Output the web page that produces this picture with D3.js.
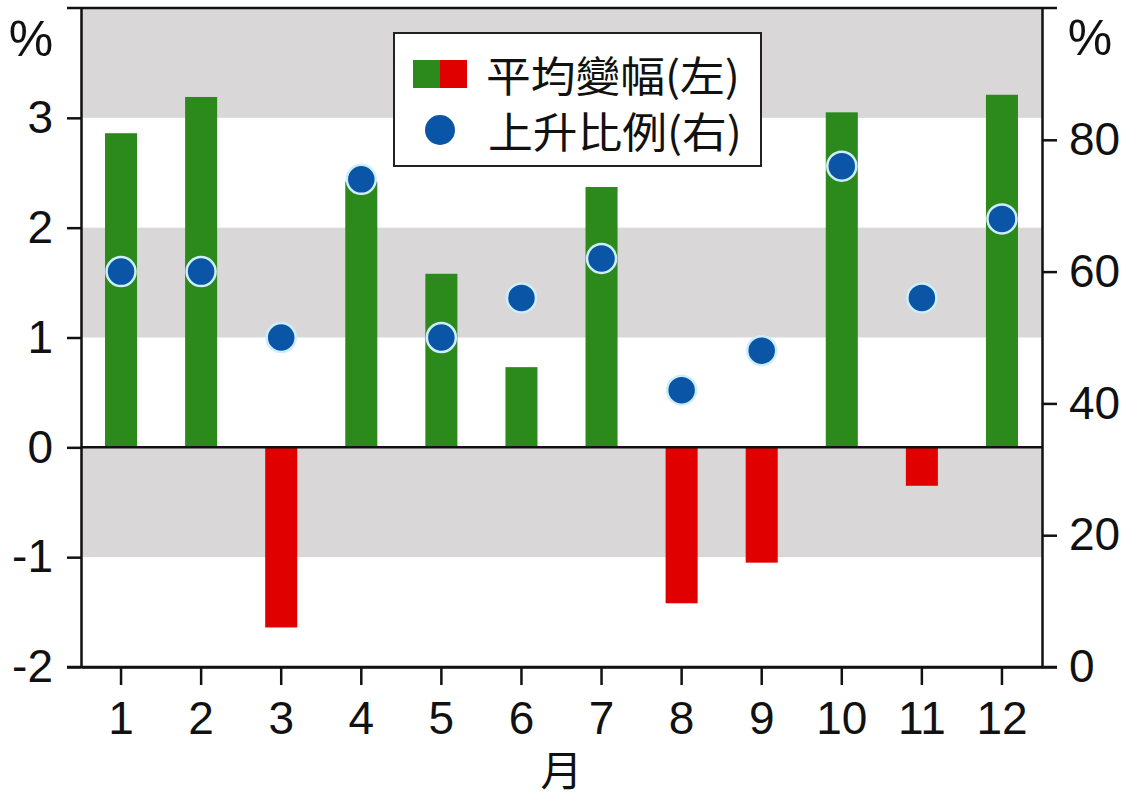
<!DOCTYPE html>
<html lang="zh-Hant">
<head>
    <meta charset="UTF-8">
    <title>平均變幅與上升比例</title>
    <script src="https://d3js.org/d3.v7.min.js"></script>
    <style>
        body { margin: 0; background: #fff; }
        text { font-family: "Liberation Sans", Arial, sans-serif; fill: #111; }
        .cjk { font-family: "Noto Sans CJK TC", "Noto Sans CJK SC", sans-serif; }
    </style>
</head>
<body>
    <svg id="chart" width="1129" height="798"></svg>

    <script>
        // Data
        const months = ['1', '2', '3', '4', '5', '6', '7', '8', '9', '10', '11', '12'];
        const avgChange = [2.86, 3.19, -1.64, 2.42, 1.58, 0.73, 2.37, -1.42, -1.05, 3.05, -0.35, 3.21]; // left axis, %
        const riseRatio = [60, 60, 50, 74, 50, 56, 62, 42, 48, 76, 56, 68]; // right axis, %
        const leftTicks = [-2, -1, 0, 1, 2, 3];
        const rightTicks = [0, 20, 40, 60, 80];
        const shadedBands = [[3, 4], [1, 2], [-1, 0]];
        const legendLabels = ['平均變幅(左)', '上升比例(右)'];

        const colors = { up: '#2b8a1b', down: '#e00000', dot: '#0b55a6', dotStroke: '#cdeefa', band: '#dad7d9' };

        const svg = d3.select('#chart');
        const plot = { left: 81, right: 1042, top: 8, bottom: 667 };

        const x = d3.scaleBand()
            .domain(months)
            .range([plot.left, plot.right])
            .paddingInner(0.6)
            .paddingOuter(0.3);

        const yLeft = d3.scaleLinear().domain([-2, 4]).range([plot.bottom, plot.top]);
        const yRight = d3.scaleLinear().domain([0, 100]).range([plot.bottom, plot.top]);

        const data = months.map((m, i) => ({ month: m, change: avgChange[i], ratio: riseRatio[i] }));

        // grey horizontal bands
        svg.append('g').selectAll('rect')
            .data(shadedBands)
            .enter().append('rect')
            .attr('x', plot.left)
            .attr('width', plot.right - plot.left)
            .attr('y', d => yLeft(d[1]))
            .attr('height', d => yLeft(d[0]) - yLeft(d[1]))
            .attr('fill', colors.band);

        // bars
        svg.append('g').selectAll('rect')
            .data(data)
            .enter().append('rect')
            .attr('x', d => x(d.month))
            .attr('width', x.bandwidth())
            .attr('y', d => yLeft(Math.max(0, d.change)))
            .attr('height', d => Math.abs(yLeft(d.change) - yLeft(0)))
            .attr('fill', d => d.change >= 0 ? colors.up : colors.down);

        // zero line and top border
        svg.append('line')
            .attr('x1', plot.left).attr('x2', plot.right)
            .attr('y1', yLeft(0)).attr('y2', yLeft(0))
            .attr('stroke', '#111').attr('stroke-width', 2.5);
        svg.append('line')
            .attr('x1', plot.left - 14).attr('x2', plot.right + 15)
            .attr('y1', yLeft(4)).attr('y2', yLeft(4))
            .attr('stroke', '#111').attr('stroke-width', 2.5);

        const styleAxis = g => {
            g.selectAll('path, line').attr('stroke', '#111').attr('stroke-width', 2.5);
            g.selectAll('text').style('font-size', '46px').attr('fill', '#111');
        };
        const plain = d => String(d); // keep ascii hyphen, no decimals

        // left axis
        svg.append('g')
            .attr('transform', `translate(${plot.left},0)`)
            .call(d3.axisLeft(yLeft).tickValues(leftTicks).tickFormat(plain)
                .tickSize(14).tickSizeOuter(0).tickPadding(14))
            .call(styleAxis);

        // right axis
        svg.append('g')
            .attr('transform', `translate(${plot.right},0)`)
            .call(d3.axisRight(yRight).tickValues(rightTicks).tickFormat(plain)
                .tickSize(15).tickSizeOuter(0).tickPadding(12))
            .call(styleAxis);

        // bottom axis
        svg.append('g')
            .attr('transform', `translate(0,${plot.bottom})`)
            .call(d3.axisBottom(x).tickSize(18).tickSizeOuter(0).tickPadding(16))
            .call(styleAxis);

        // stretch the bottom line out to meet the outer ticks
        svg.append('line')
            .attr('x1', plot.left - 14).attr('x2', plot.right + 15)
            .attr('y1', plot.bottom).attr('y2', plot.bottom)
            .attr('stroke', '#111').attr('stroke-width', 2.5);

        // dots for the rise ratio
        svg.append('g').selectAll('circle')
            .data(data)
            .enter().append('circle')
            .attr('cx', d => x(d.month) + x.bandwidth() / 2)
            .attr('cy', d => yRight(d.ratio))
            .attr('r', 14.5)
            .attr('fill', colors.dot)
            .attr('stroke', colors.dotStroke)
            .attr('stroke-width', 2.5);

        // unit labels
        svg.append('text').attr('x', 31).attr('y', 56)
            .attr('text-anchor', 'middle').style('font-size', '50px').text('%');
        svg.append('text').attr('x', 1090).attr('y', 55)
            .attr('text-anchor', 'middle').style('font-size', '50px').text('%');
        svg.append('text').attr('class', 'cjk')
            .attr('x', (plot.left + plot.right) / 2).attr('y', 786)
            .attr('text-anchor', 'middle').style('font-size', '42px').text('月');

        // legend
        const legend = svg.append('g');
        legend.append('rect')
            .attr('x', 394).attr('y', 33).attr('width', 367).attr('height', 133)
            .attr('fill', '#fff').attr('stroke', '#222').attr('stroke-width', 2);
        legend.append('rect')
            .attr('x', 413).attr('y', 60).attr('width', 27).attr('height', 28)
            .attr('fill', colors.up);
        legend.append('rect')
            .attr('x', 440).attr('y', 60).attr('width', 27).attr('height', 28)
            .attr('fill', colors.down);
        legend.append('circle')
            .attr('cx', 440).attr('cy', 130).attr('r', 15)
            .attr('fill', colors.dot);
        legend.selectAll('text.cjk')
            .data(legendLabels)
            .enter().append('text')
            .attr('class', 'cjk')
            .attr('x', (d, i) => i === 0 ? 486 : 488)
            .attr('y', (d, i) => i === 0 ? 92 : 148)
            .attr('textLength', 254)
            .attr('lengthAdjust', 'spacingAndGlyphs')
            .style('font-size', '42px')
            .text(d => d);
    </script>
</body>
</html>
